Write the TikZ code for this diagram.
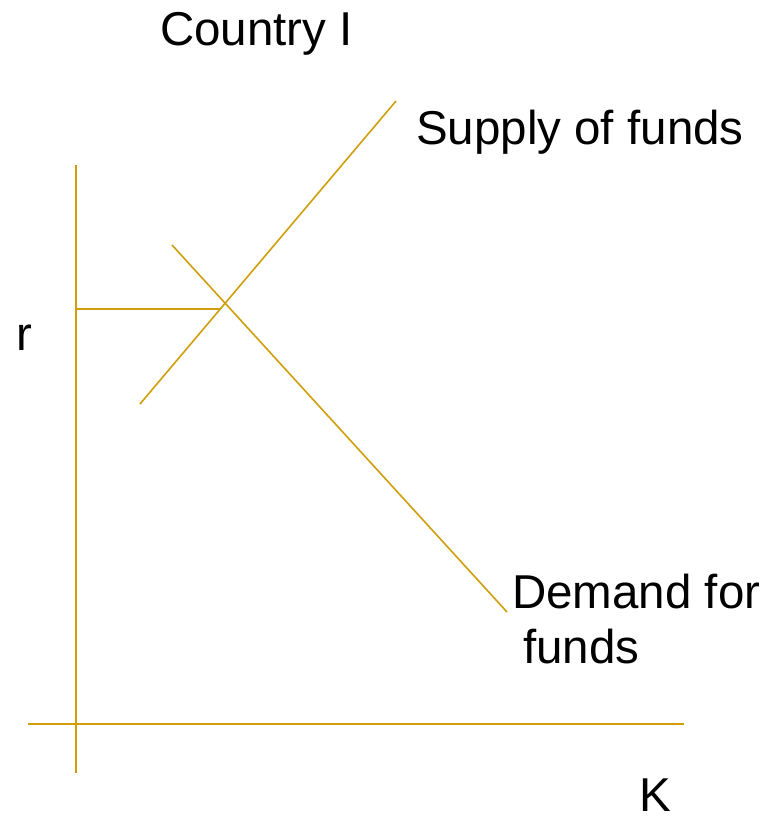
\documentclass[tikz,border=0pt]{standalone}
\usepackage{fontspec}
\setmainfont{Liberation Sans}
\definecolor{gold}{RGB}{208,158,10}
\begin{document}
\begin{tikzpicture}[x=1pt,y=-1pt,
  curve/.style={draw=gold,line width=1.6pt},
  axis/.style={draw=gold,line width=2pt},
  lbl/.style={anchor=base west,inner sep=0pt,font=\fontsize{47.5}{55}\selectfont}]
\useasboundingbox (0,0) rectangle (767,818);
% axes
\coordinate (vt) at (76,165);
\coordinate (vb) at (76,773);
\coordinate (hl) at (28,724);
\coordinate (hr) at (684,724);
\draw[axis] (vt) -- (vb);
\draw[axis] (hl) -- (hr);
% supply and demand
\coordinate (s1) at (140,404);
\coordinate (s2) at (396,101);
\coordinate (d1) at (172,245);
\coordinate (d2) at (507,612);
\draw[curve] (s1) -- (s2);
\draw[curve] (d1) -- (d2);
% equilibrium rate
\coordinate (r0) at (76,309);
\coordinate (r1) at (221,309);
\draw[curve] (r0) -- (r1);
% labels
\node[lbl] (title) at (160,46) {Country I};
\node[lbl] (sup) at (416,145) {Supply of funds};
\node[lbl] (dem) at (512,608) {Demand for};
\node[lbl] (dem2) at (523,663) {funds};
\node[lbl] (r) at (16,350) {r};
\node[lbl] (K) at (639,811) {K};
\end{tikzpicture}
\end{document}
